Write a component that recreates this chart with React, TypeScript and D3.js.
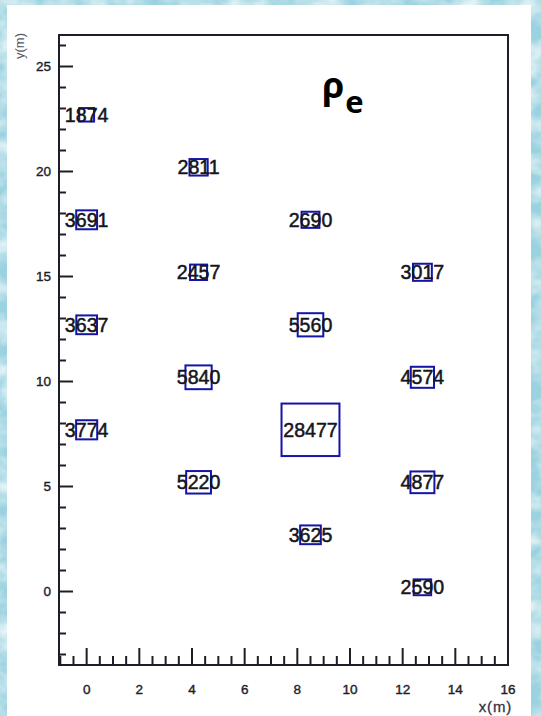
import React from "react";
import * as d3 from "d3";

// Bin centres (metres) and counts of the 2-D box histogram
const binX = [0, 0, 0, 0, 4.25, 4.25, 4.25, 4.25, 8.5, 8.5, 8.5, 8.5, 12.75, 12.75, 12.75, 12.75];
const binY = [22.7, 17.7, 12.7, 7.7, 20.2, 15.2, 10.2, 5.2, 17.7, 12.7, 7.7, 2.7, 15.2, 10.2, 5.2, 0.2];
const counts = [1874, 3691, 3637, 3774, 2811, 2457, 5840, 5220, 2690, 5560, 28477, 3625, 3017, 4574, 4877, 2590];

// Bin size (metres)
const binW = 2.2;
const binH = 2.5;

// Axis ticks
const xMajor = [0, 2, 4, 6, 8, 10, 12, 14, 16];
const yMajor = [0, 5, 10, 15, 20, 25];

const W = 541;
const H = 716;

export default function App() {
  const x = d3.scaleLinear().domain([-1.05, 16]).range([59, 508]);
  const y = d3.scaleLinear().domain([-3.5, 26.5]).range([665, 35]);
  const [x0, x1] = x.range();
  const [y0, y1] = y.range();
  const maxC = d3.max(counts) as number;
  const sz = d3.scaleSqrt().domain([0, maxC]).range([0, 1]);
  const fullW = x(binW) - x(0);
  const fullH = y(0) - y(binH);

  const xMinor = d3.range(-1, 16.01, 0.5).filter((v) => !xMajor.includes(v));
  const yMinor = d3.range(-3, 26.01, 1).filter((v) => !yMajor.includes(v));

  const font = "'Liberation Sans', Arial, Helvetica, sans-serif";
  const ink = "#1e1e28";

  return (
    <svg
      width={W}
      height={H}
      style={{ position: "absolute", left: 0, top: 0 }}
      fontFamily={font}
    >
      <defs>
        <filter id="water" x="0" y="0" width="100%" height="100%">
          <feTurbulence type="fractalNoise" baseFrequency="0.035 0.05" numOctaves="3" seed="7" />
          <feColorMatrix
            type="matrix"
            values="0 0 0 0 1  0 0 0 0 1  0 0 0 0 1  1.6 0 0 0 -0.55"
          />
        </filter>
      </defs>

      {/* slide backdrop */}
      <rect x={0} y={0} width={W} height={H} fill="#9bd2e0" />
      <rect x={0} y={0} width={W} height={H} filter="url(#water)" />
      <rect x={7} y={5} width={524} height={H - 5} fill="#ffffff" />

      {/* boxes, area proportional to the count */}
      {counts.map((c, i) => {
        const w = fullW * sz(c);
        const h = fullH * sz(c);
        return (
          <rect
            key={"b" + i}
            x={x(binX[i]) - w / 2}
            y={y(binY[i]) - h / 2}
            width={w}
            height={h}
            fill="none"
            stroke="#1414a8"
            strokeWidth={2}
          />
        );
      })}

      {/* counts */}
      {counts.map((c, i) => (
        <text
          key={"t" + i}
          x={x(binX[i])}
          y={y(binY[i])}
          dy="0.36em"
          textAnchor="middle"
          fontSize={19.6}
          fill="#15151c"
          stroke="#15151c"
          strokeWidth={0.5}
        >
          {c}
        </text>
      ))}

      {/* frame */}
      <rect x={x0} y={y1} width={x1 - x0} height={y0 - y1} fill="none" stroke={ink} strokeWidth={2} />

      {/* x ticks */}
      {xMajor.map((v) => (
        <line key={"xM" + v} x1={x(v)} x2={x(v)} y1={y0} y2={y0 - 17} stroke={ink} strokeWidth={2} />
      ))}
      {xMinor.map((v) => (
        <line key={"xm" + v} x1={x(v)} x2={x(v)} y1={y0} y2={y0 - 9} stroke={ink} strokeWidth={2} />
      ))}
      {xMajor.map((v) => (
        <text
          key={"xl" + v}
          x={x(v)}
          y={694}
          textAnchor="middle"
          fontSize={13.5}
          fill={ink}
          stroke={ink}
          strokeWidth={0.4}
        >
          {v}
        </text>
      ))}

      {/* y ticks */}
      {yMajor.map((v) => (
        <line key={"yM" + v} x1={x0} x2={x0 + 14} y1={y(v)} y2={y(v)} stroke={ink} strokeWidth={2} />
      ))}
      {yMinor.map((v) => (
        <line key={"ym" + v} x1={x0} x2={x0 + 7} y1={y(v)} y2={y(v)} stroke={ink} strokeWidth={2} />
      ))}
      {yMajor.map((v) => (
        <text
          key={"yl" + v}
          x={51}
          y={y(v)}
          dy="0.36em"
          textAnchor="end"
          fontSize={13.5}
          fill={ink}
          stroke={ink}
          strokeWidth={0.4}
        >
          {v}
        </text>
      ))}

      {/* axis titles */}
      <text
        x={512}
        y={712}
        textAnchor="end"
        fontSize={15}
        fill="#333344"
        stroke="#333344"
        strokeWidth={0.3}
        letterSpacing={0.8}
      >
        x(m)
      </text>
      <text
        transform="translate(24,33) rotate(-90)"
        textAnchor="end"
        fontSize={13}
        fill="#555566"
      >
        y(m)
      </text>

      {/* quantity label */}
      <text x={322} y={98} fontFamily="'Open Sans', 'Noto Sans', sans-serif" fontWeight={700} fill="#000">
        <tspan fontSize={36}>ρ</tspan>
        <tspan fontSize={31} dy={15} dx={1}>e</tspan>
      </text>
    </svg>
  );
}
